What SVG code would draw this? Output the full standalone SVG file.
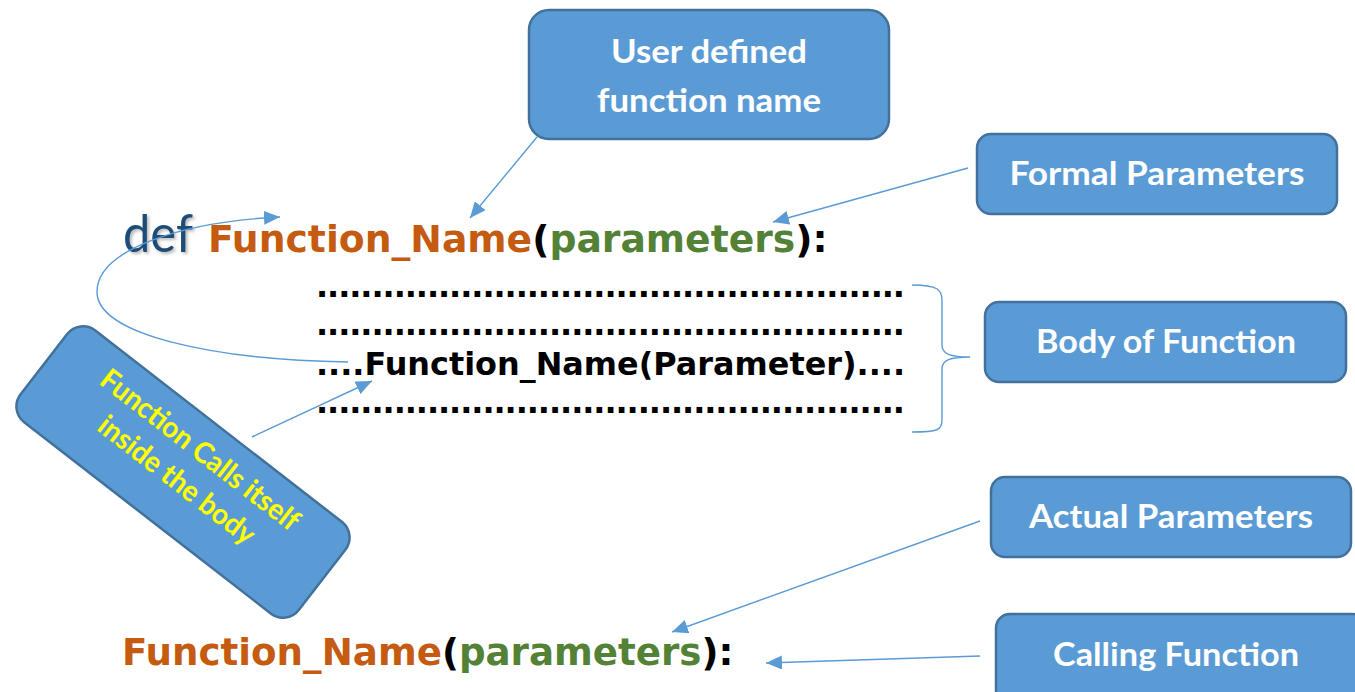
<svg xmlns="http://www.w3.org/2000/svg" width="1355" height="692" viewBox="0 0 1355 692">
  <defs>
    <style>
      .box { fill: #5B9BD5; stroke: #41719C; stroke-width: 2.5; }
      .lbl { font-family: Lato, "Open Sans", "Liberation Sans", sans-serif; font-weight: bold; font-size: 32px; fill: #FFFFFF; text-anchor: middle; }
      .note { font-family: Lato, "Open Sans", "Liberation Sans", sans-serif; font-weight: bold; font-size: 29px; fill: #FFFF00; text-anchor: middle; }
      .code { font-family: "DejaVu Sans", Verdana, sans-serif; font-weight: bold; fill: #000000; }
      .fn { fill: #C55A11; }
      .par { fill: #538135; }
      .link { fill: none; stroke: #5B9BD5; stroke-width: 1.4; }
    </style>
    <marker id="arrow" markerUnits="userSpaceOnUse" markerWidth="18" markerHeight="14" refX="16" refY="7" orient="auto">
      <path d="M0,0 L16,7 L0,14 Z" fill="#5B9BD5"/>
    </marker>
    <filter id="shadow" x="-10%" y="-10%" width="130%" height="140%">
      <feDropShadow dx="2" dy="2" stdDeviation="1.5" flood-color="#808080" flood-opacity="0.55"/>
    </filter>
  </defs>

  <rect width="1355" height="692" fill="#FFFFFF"/>

  <!-- function header -->
  <g id="header">
    <text x="123" y="252" font-family="Lato, 'Open Sans', sans-serif" font-size="52" fill="#1F4E79" textLength="70" lengthAdjust="spacingAndGlyphs" filter="url(#shadow)">def</text>
    <text x="208" y="252" class="code" font-size="37.7"><tspan class="fn">Function_Name</tspan>(<tspan class="par">parameters</tspan>):</text>
  </g>

  <!-- function body -->
  <g id="body">
    <text x="316" y="297" class="code" font-size="32" textLength="589" lengthAdjust="spacing">.....................................................</text>
    <text x="316" y="335" class="code" font-size="32" textLength="589" lengthAdjust="spacing">.....................................................</text>
    <text x="316" y="375" class="code" font-size="32" textLength="589" lengthAdjust="spacingAndGlyphs">....Function_Name(Parameter)....</text>
    <text x="316" y="413" class="code" font-size="32" textLength="589" lengthAdjust="spacing">.....................................................</text>
  </g>

  <!-- function call -->
  <g id="call">
    <text x="122" y="665" class="code" font-size="37.2"><tspan class="fn">Function_Name</tspan>(<tspan class="par">parameters</tspan>):</text>
  </g>

  <!-- callout boxes -->
  <g id="user-defined-name">
    <rect class="box" x="529" y="10" width="360" height="129" rx="20"/>
    <text class="lbl" x="709" y="63" textLength="196" lengthAdjust="spacingAndGlyphs">User defined</text>
    <text class="lbl" x="709" y="112" textLength="224" lengthAdjust="spacingAndGlyphs">function name</text>
  </g>

  <g id="formal-parameters">
    <rect class="box" x="977" y="134" width="360" height="80" rx="14"/>
    <text class="lbl" x="1157" y="185" textLength="295" lengthAdjust="spacingAndGlyphs">Formal Parameters</text>
  </g>

  <g id="body-of-function">
    <rect class="box" x="985" y="302" width="361" height="80" rx="14"/>
    <text class="lbl" x="1166" y="353" textLength="260" lengthAdjust="spacingAndGlyphs">Body of Function</text>
  </g>

  <g id="actual-parameters">
    <rect class="box" x="991" y="477" width="360" height="80" rx="14"/>
    <text class="lbl" x="1171" y="528" textLength="284" lengthAdjust="spacingAndGlyphs">Actual Parameters</text>
  </g>

  <g id="calling-function">
    <rect class="box" x="996" y="614" width="370" height="90" rx="14"/>
    <text class="lbl" x="1176" y="666" textLength="246" lengthAdjust="spacingAndGlyphs">Calling Function</text>
  </g>

  <g id="recursion-note" transform="translate(183,472) rotate(37.8)">
    <rect class="box" x="-176" y="-58" width="352" height="116" rx="20"/>
    <text class="note" x="0" y="-18" textLength="243" lengthAdjust="spacingAndGlyphs">Function Calls itself</text>
    <text class="note" x="0" y="20" textLength="190" lengthAdjust="spacingAndGlyphs">inside the body</text>
  </g>

  <!-- connectors -->
  <g id="connectors">
    <path class="link" d="M537,137 L470,218" marker-end="url(#arrow)"/>
    <path class="link" d="M968,168 L773,222" marker-end="url(#arrow)"/>
    <path class="link" d="M348,362 C215,360 97,335 97,292 C97,250 180,222 280,217" marker-end="url(#arrow)"/>
    <path class="link" d="M252,437 L372,381" marker-end="url(#arrow)"/>
    <path class="link" d="M912,285 C938,285 942,290 942,300 L942,345 C942,354 950,357 970,357 C950,357 942,360 942,369 L942,420 C942,430 938,432 912,432"/>
    <path class="link" d="M980,521 L672,632" marker-end="url(#arrow)"/>
    <path class="link" d="M980,656 L766,663" marker-end="url(#arrow)"/>
  </g>
</svg>
